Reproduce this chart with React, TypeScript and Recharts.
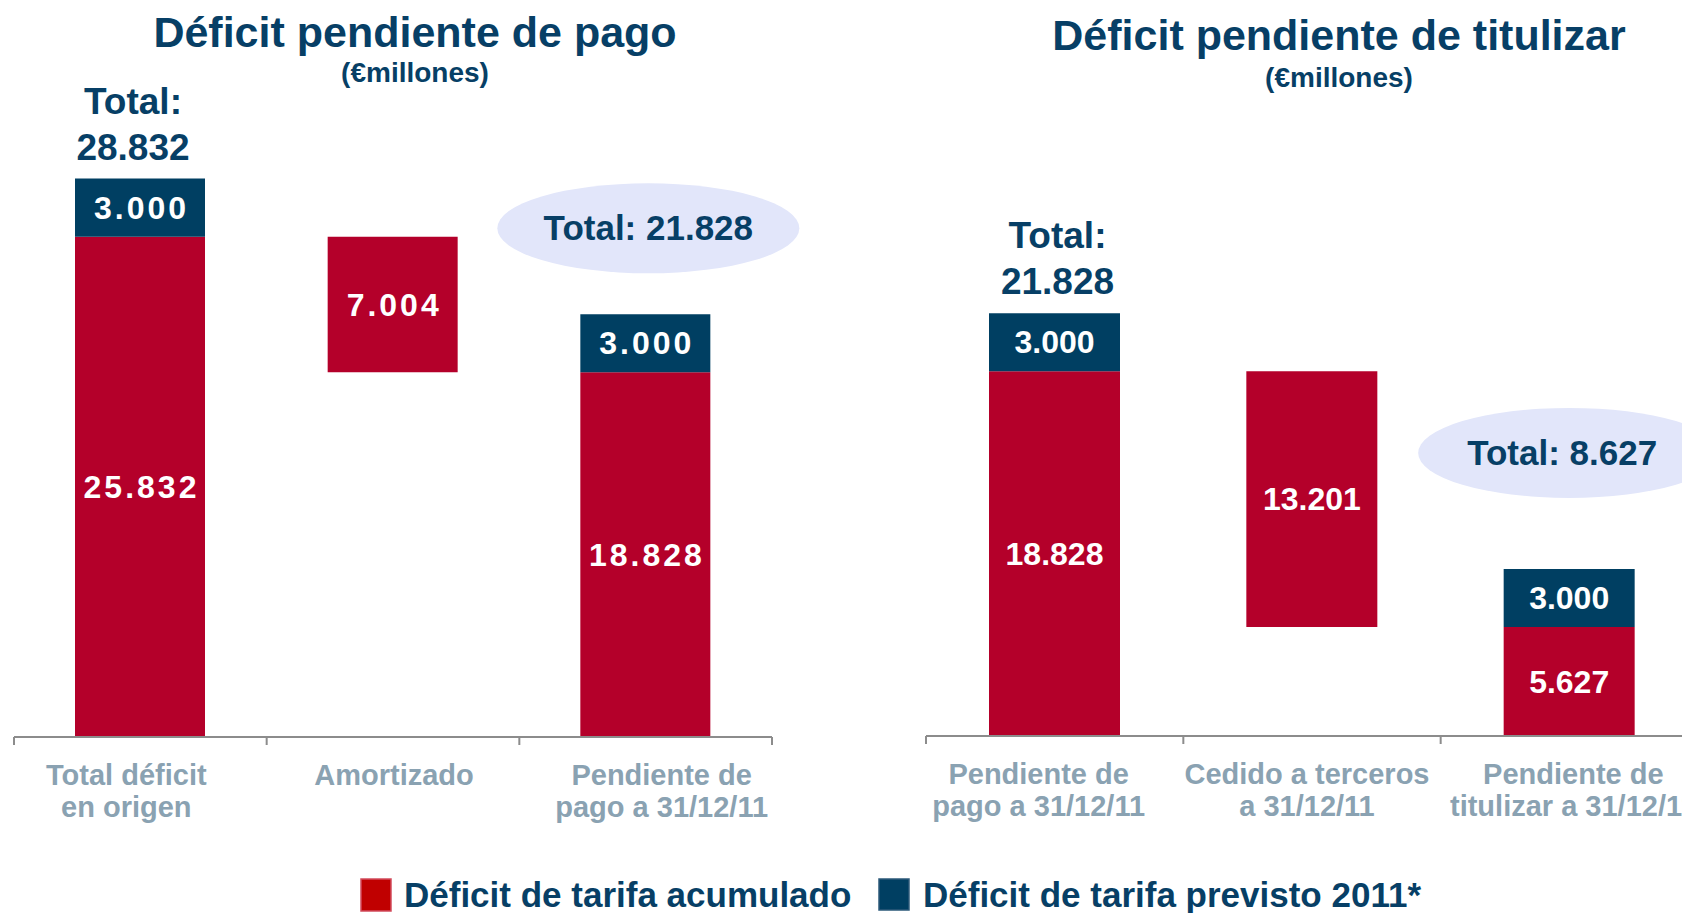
import React from "react";
import { BarChart, Bar, XAxis, YAxis, LabelList } from "recharts";

// Déficit pendiente de pago (€ millones)
const pagoCategorias = ["Total déficit\nen origen", "Amortizado", "Pendiente de\npago a 31/12/11"];
const pagoBase = [0, 18828, 0];
const pagoAcumulado = [25832, 7004, 18828];
const pagoPrevisto = [3000, 0, 3000];
const pagoTotales = [28832, null, 21828];

// Déficit pendiente de titulizar (€ millones)
const titCategorias = ["Pendiente de\npago a 31/12/11", "Cedido a terceros\na 31/12/11", "Pendiente de\ntitulizar a 31/12/11"];
const titBase = [0, 5627, 0];
const titAcumulado = [18828, 13201, 5627];
const titPrevisto = [3000, 0, 3000];
const titTotales = [21828, null, 8627];

const yDomain = [0, 30000];

const FONT = "'Liberation Sans', Arial, Helvetica, sans-serif";
const ROJO = "#b4002a";
const AZUL = "#003f62";
const TEXTO = "#073f66";
const GRIS = "#8aa2b2";
const EJE = "#8c8c8c";

const fmt = (v: number) => String(v).replace(/\B(?=(\d{3})+(?!\d))/g, ".");

const build = (cats: string[], base: number[], acu: number[], prev: number[], tot: (number | null)[]) =>
  cats.map((c, i) => ({ cat: c, base: base[i], acumulado: acu[i], previsto: prev[i], total: tot[i] }));

const pagoData = build(pagoCategorias, pagoBase, pagoAcumulado, pagoPrevisto, pagoTotales);
const titData = build(titCategorias, titBase, titAcumulado, titPrevisto, titTotales);

function CategoryTick(props: any) {
  const { x, y, payload, index, bandWidth, count, shifts } = props;
  const lines = String(payload.value).split("\n");
  const tx = x + (shifts[index] || 0);
  return (
    <g>
      <line x1={x - bandWidth / 2} x2={x - bandWidth / 2} y1={y - 8} y2={y} stroke={EJE} strokeWidth={2} />
      {index === count - 1 && (
        <line x1={x + bandWidth / 2} x2={x + bandWidth / 2} y1={y - 8} y2={y} stroke={EJE} strokeWidth={2} />
      )}
      <text x={tx} y={y} textAnchor="middle" fill={GRIS} fontSize={29} fontWeight="bold" fontFamily={FONT}>
        {lines.map((l, i) => (
          <tspan key={i} x={tx} dy={i === 0 ? 40 : 32}>
            {l}
          </tspan>
        ))}
      </text>
    </g>
  );
}

const valueLabel = (spacing: number) => (props: any) => {
  const { x, y, width, height, value } = props;
  if (!value) return null;
  return (
    <text
      x={x + width / 2 + spacing / 2}
      y={y + height / 2 + 11}
      textAnchor="middle"
      fill="#fff"
      fontSize={32}
      fontWeight="bold"
      fontFamily={FONT}
      letterSpacing={spacing}
    >
      {fmt(value)}
    </text>
  );
};

type TotalCfg = { stackDx: number; ellDx: number; ellDy: number; textDx: number };

const totalLabel = (cfg: TotalCfg) => (props: any) => {
  const { x, y, width, value, index } = props;
  if (value == null) return null;
  const cx = x + width / 2;
  if (index === 0) {
    return (
      <g fontFamily={FONT} fontWeight="bold" fontSize={37} fill={TEXTO} textAnchor="middle">
        <text x={cx + cfg.stackDx} y={y - 65}>Total:</text>
        <text x={cx + cfg.stackDx} y={y - 19}>{fmt(value)}</text>
      </g>
    );
  }
  const ex = cx + cfg.ellDx;
  const ey = y + cfg.ellDy;
  return (
    <g>
      <ellipse cx={ex} cy={ey} rx={151} ry={45} fill="#e2e6fa" />
      <text x={ex + cfg.textDx} y={ey + 12} textAnchor="middle" fontFamily={FONT} fontWeight="bold" fontSize={35} fill={TEXTO}>
        Total: {fmt(value)}
      </text>
    </g>
  );
};

function Panel(props: {
  data: any[];
  width: number;
  margin: any;
  plotWidth: number;
  barSize: number;
  spacing: number;
  shifts: number[];
  cfg: TotalCfg;
}) {
  const { data, width, margin, plotWidth, barSize, spacing, shifts, cfg } = props;
  return (
    <BarChart width={width} height={913} data={data} margin={margin} barSize={barSize}>
      <XAxis
        dataKey="cat"
        height={100}
        tickSize={8}
        tickMargin={0}
        tickLine={false}
        axisLine={{ stroke: EJE, strokeWidth: 2 }}
        interval={0}
        tick={(p: any) => (
          <CategoryTick {...p} bandWidth={plotWidth / data.length} count={data.length} shifts={shifts} />
        )}
      />
      <YAxis hide domain={yDomain} />
      <Bar dataKey="base" stackId="a" fill="transparent" isAnimationActive={false} />
      <Bar dataKey="acumulado" stackId="a" fill={ROJO} isAnimationActive={false}>
        <LabelList dataKey="acumulado" content={valueLabel(spacing)} />
      </Bar>
      <Bar dataKey="previsto" stackId="a" fill={AZUL} isAnimationActive={false}>
        <LabelList dataKey="previsto" content={valueLabel(spacing)} />
        <LabelList dataKey="total" content={totalLabel(cfg)} />
      </Bar>
    </BarChart>
  );
}

export default function App() {
  return (
    <div
      style={{
        position: "fixed",
        left: 0,
        top: 0,
        width: 1682,
        height: 913,
        overflow: "hidden",
        background: "#fff",
        fontFamily: FONT,
      }}
    >
      <div style={{ position: "absolute", left: 0, top: 0 }}>
        <Panel
          data={pagoData}
          width={800}
          margin={{ top: 156, left: 14, right: 28, bottom: 76 }}
          plotWidth={758}
          barSize={130}
          spacing={3}
          shifts={[-14, 1, 16]}
          cfg={{ stackDx: -7, ellDx: 3, ellDy: -86, textDx: 0 }}
        />
      </div>
      <div style={{ position: "absolute", left: 840, top: 0 }}>
        <Panel
          data={titData}
          width={900}
          margin={{ top: 155, left: 86, right: 42, bottom: 77 }}
          plotWidth={772}
          barSize={131}
          spacing={0}
          shifts={[-16, -5, 4]}
          cfg={{ stackDx: 3, ellDx: 0, ellDy: -116, textDx: -7 }}
        />
      </div>
      <svg width={1682} height={913} style={{ position: "absolute", left: 0, top: 0, pointerEvents: "none" }}>
        <g fontFamily={FONT} fontWeight="bold" fill={TEXTO} textAnchor="middle">
          <text x={415} y={47} fontSize={43}>Déficit pendiente de pago</text>
          <text x={415} y={82} fontSize={28}>(€millones)</text>
          <text x={1339} y={50} fontSize={43}>Déficit pendiente de titulizar</text>
          <text x={1339} y={87} fontSize={28}>(€millones)</text>
        </g>
        <rect x={361} y={879} width={30} height={32} fill="#c00000" stroke="#d24b5c" strokeWidth={1.5} />
        <text x={404} y={907} fontFamily={FONT} fontWeight="bold" fontSize={35} fill={TEXTO}>
          Déficit de tarifa acumulado
        </text>
        <rect x={879} y={879} width={30} height={31} fill={AZUL} stroke="#2c5a7a" strokeWidth={1.5} />
        <text x={923} y={907} fontFamily={FONT} fontWeight="bold" fontSize={35} fill={TEXTO}>
          Déficit de tarifa previsto 2011*
        </text>
      </svg>
    </div>
  );
}
